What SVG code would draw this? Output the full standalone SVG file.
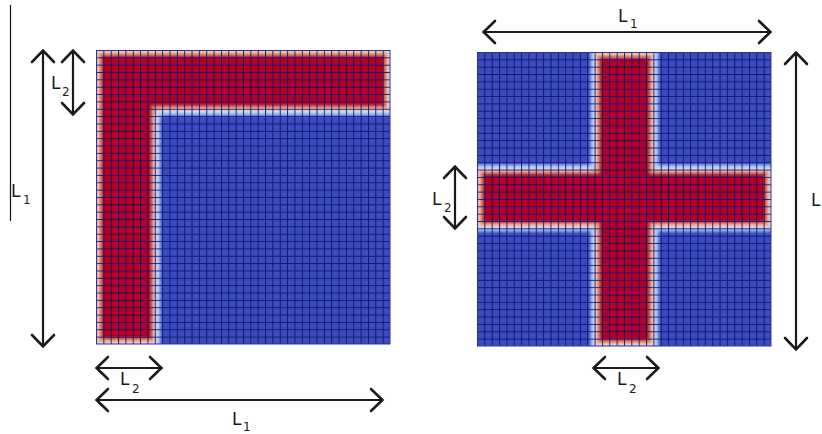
<svg xmlns="http://www.w3.org/2000/svg" width="822" height="434" viewBox="0 0 822 434">
  <style>
    .blue { fill: #3b4cc0; }
    .lb { fill: #aac7fd; }
    .wh { fill: #e2dcda; }
    .pe { fill: #f29a7c; }
    .rd { fill: #b40426; }
    .frame { fill: none; stroke: #2b3590; stroke-width: 1; }
    .dim { fill: none; stroke: #1a1a1a; stroke-width: 2.2; marker-start: url(#ah); marker-end: url(#ah); }
    .thin { fill: none; stroke: #111; stroke-width: 1.2; }
    .lbl { font-family: "DejaVu Sans", "Liberation Sans", sans-serif; font-size: 17px; fill: #1a1a1a; }
    .sub { font-size: 12px; }
  </style>
  <defs>
    <marker id="ah" markerUnits="userSpaceOnUse" markerWidth="30" markerHeight="30" viewBox="-15 -15 30 30" refX="0" refY="0" orient="auto-start-reverse">
      <path d="M-12,-11 L-0.6,0 L-12,11" fill="none" stroke="#1a1a1a" stroke-width="2.6" stroke-linejoin="miter" stroke-linecap="round"/>
    </marker>
    <filter id="soft" x="-10%" y="-10%" width="120%" height="120%">
      <feGaussianBlur stdDeviation="1.4"/>
    </filter>
    <pattern id="gridL" patternUnits="userSpaceOnUse" x="96" y="50" width="7.35" height="7.35">
      <path d="M0.5,0 V7.35 M0,0.5 H7.35" stroke="#10106e" stroke-opacity="0.9" stroke-width="1" fill="none"/>
    </pattern>
    <pattern id="gridR" patternUnits="userSpaceOnUse" x="477" y="52" width="7.35" height="7.35">
      <path d="M0.5,0 V7.35 M0,0.5 H7.35" stroke="#10106e" stroke-opacity="0.9" stroke-width="1" fill="none"/>
    </pattern>
    <clipPath id="clipL"><rect x="96" y="50" width="294" height="294"/></clipPath>
    <clipPath id="clipR"><rect x="477" y="52" width="294" height="294"/></clipPath>
  </defs>

  <rect width="822" height="434" fill="#ffffff"/>

  <!-- Left panel: L-shaped domain -->
  <g id="panel-L">
    <g clip-path="url(#clipL)">
      <rect class="blue" x="96" y="50" width="294" height="294"/>
      <g filter="url(#soft)">
        <path class="lb" d="M86,40 H400 V115.5 H165 Q160.5,115.5 160.5,120 V354 H86 Z"/>
        <path class="wh" d="M86,40 H400 V112 H162 Q157,112 157,117 V354 H86 Z"/>
        <path class="pe" d="M98,52 H388 V109 H158 Q154.5,109 154.5,113 V342 H98 Z"/>
        <path class="rd" d="M101,55 H385 V106.5 H152 V339 H101 Z"/>
      </g>
      <rect x="96" y="50" width="294" height="294" fill="url(#gridL)"/>
    </g>
    <rect class="frame" x="96.5" y="50.5" width="293.5" height="293.5"/>
  </g>

  <!-- Right panel: cross-shaped domain -->
  <g id="panel-cross">
    <g clip-path="url(#clipR)">
      <rect class="blue" x="477" y="52" width="294" height="294"/>
      <g filter="url(#soft)">
        <rect class="lb" x="590.5" y="42" width="68" height="314"/>
        <rect class="lb" x="467" y="164.5" width="314" height="67"/>
        <rect class="wh" x="594" y="42" width="61" height="314"/>
        <rect class="wh" x="467" y="168" width="314" height="60"/>
        <rect class="pe" x="596.5" y="54" width="56" height="290"/>
        <rect class="pe" x="479" y="170.5" width="290" height="55"/>
        <rect class="rd" x="599" y="57" width="51" height="284"/>
        <rect class="rd" x="482" y="173" width="284" height="50"/>
      </g>
      <rect x="477" y="52" width="294" height="294" fill="url(#gridR)"/>
    </g>
    <rect class="frame" x="477.5" y="52.5" width="293.5" height="293.5"/>
  </g>

  <!-- Dimension arrows -->
  <g id="connectors">
    <path class="thin" d="M10.5,5 V221"/>
    <path class="dim" d="M43,50 V347"/>
    <path class="dim" d="M73,50 V115"/>
    <path class="dim" d="M96,368 H162"/>
    <path class="dim" d="M96,400 H383"/>
    <path class="dim" d="M483,32 H771"/>
    <path class="dim" d="M796,52 V350"/>
    <path class="dim" d="M455,166 V229"/>
    <path class="dim" d="M593,368 H659"/>
  </g>

  <!-- Labels -->
  <g id="labels">
    <text class="lbl"><tspan x="11" y="197">L</tspan><tspan class="sub" x="23" y="204">1</tspan></text>
    <text class="lbl"><tspan x="51" y="89">L</tspan><tspan class="sub" x="62" y="96">2</tspan></text>
    <text class="lbl"><tspan x="120" y="385">L</tspan><tspan class="sub" x="132" y="393">2</tspan></text>
    <text class="lbl"><tspan x="232" y="425">L</tspan><tspan class="sub" x="243" y="431">1</tspan></text>
    <text class="lbl"><tspan x="618" y="22">L</tspan><tspan class="sub" x="630" y="28">1</tspan></text>
    <text class="lbl"><tspan x="811" y="206">L</tspan></text>
    <text class="lbl"><tspan x="432" y="205">L</tspan><tspan class="sub" x="444" y="212">2</tspan></text>
    <text class="lbl"><tspan x="617" y="385">L</tspan><tspan class="sub" x="629" y="393">2</tspan></text>
  </g>
</svg>
